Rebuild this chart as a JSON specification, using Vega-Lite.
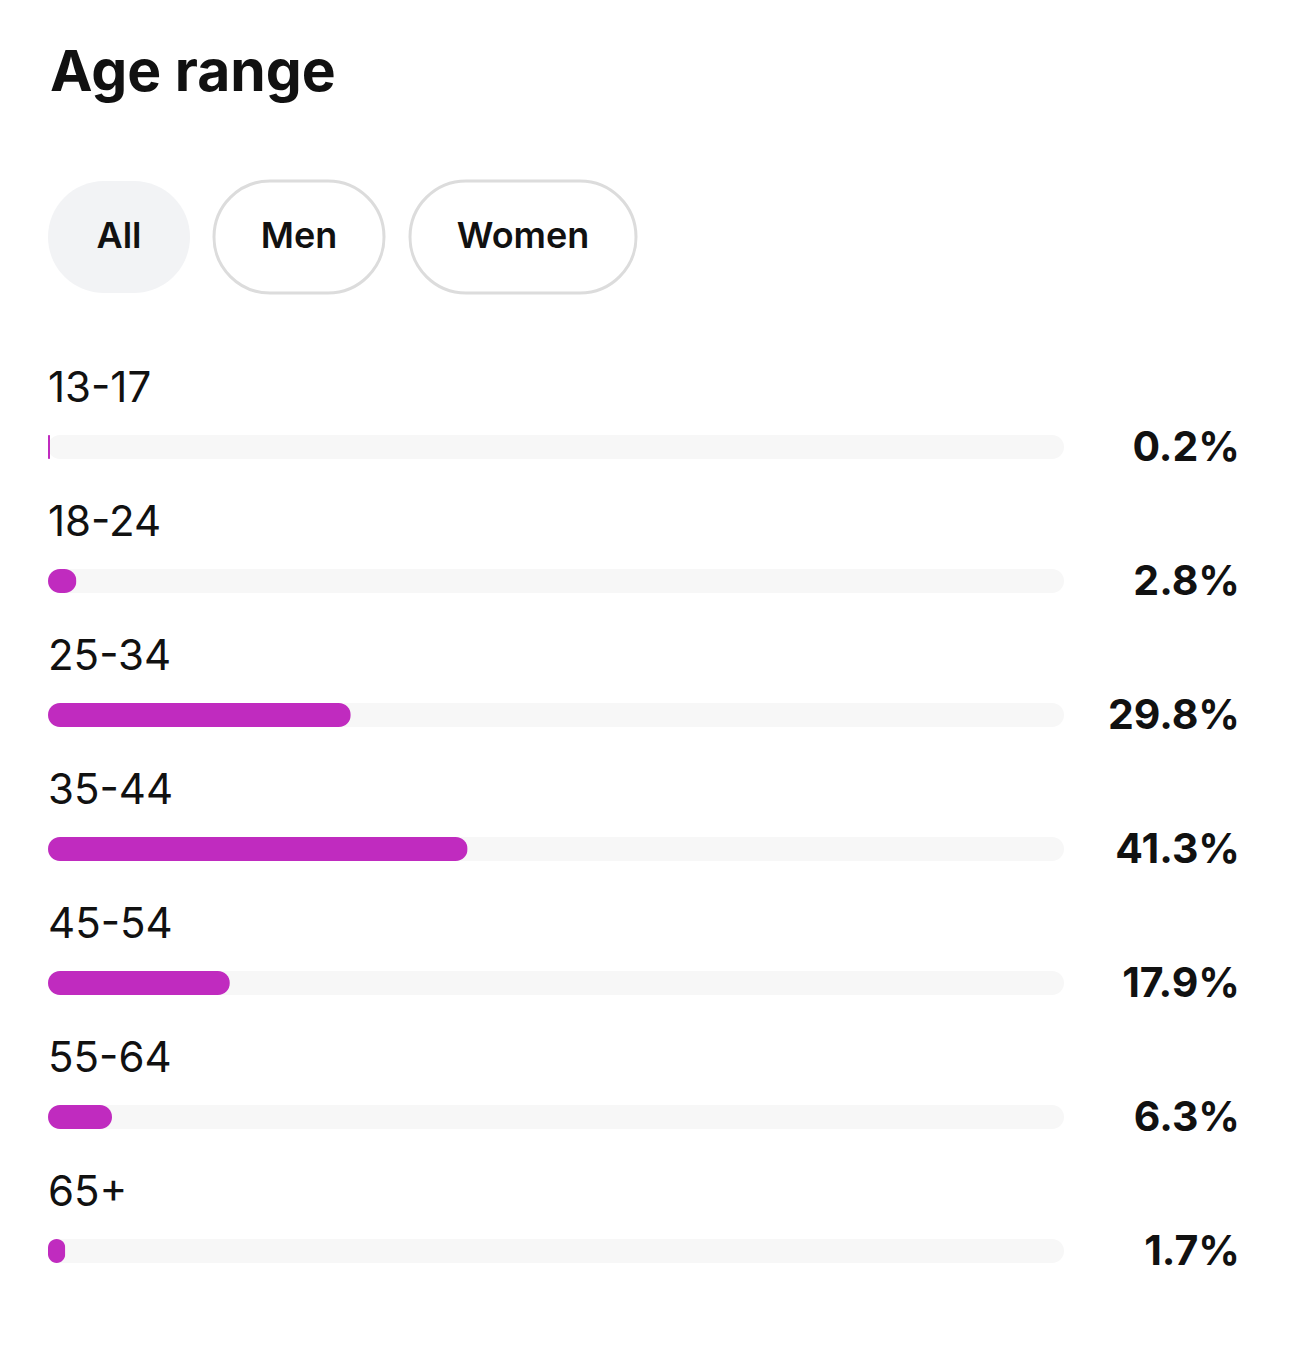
{
  "$schema": "https://vega.github.io/schema/vega-lite/v6.json",
  "padding": {"left": 48, "top": 44, "right": 0, "bottom": 0},
  "background": "#ffffff",
  "config": {
    "view": {"stroke": null},
    "axis": {"disable": true},
    "font": "Inter",
    "concat": {"spacing": 0}
  },
  "title": {
    "text": "Age range",
    "anchor": "start",
    "fontSize": 57,
    "fontWeight": "bold",
    "font": "Inter",
    "color": "#111111",
    "offset": 77,
    "dx": 2
  },
  "datasets": {
    "buttons": [
      {"label": "All", "selected": true},
      {"label": "Men", "selected": false},
      {"label": "Women", "selected": false}
    ],
    "ages": [
      {"age": "13-17", "value": 0.2},
      {"age": "18-24", "value": 2.8},
      {"age": "25-34", "value": 29.8},
      {"age": "35-44", "value": 41.3},
      {"age": "45-54", "value": 17.9},
      {"age": "55-64", "value": 6.3},
      {"age": "65+", "value": 1.7}
    ]
  },
  "vconcat": [
    {
      "hconcat": [
        {
          "width": 142, "height": 112,
          "data": {"name": "buttons"},
          "transform": [{"filter": "datum.label == 'All'"}],
          "layer": [
            {
              "mark": {"type": "rect", "fill": "#f2f3f5", "cornerRadius": 56},
              "encoding": {
                "x": {"datum": 0, "type": "quantitative", "scale": {"domain": [0, 1], "nice": false}},
                "x2": {"datum": 1},
                "y": {"datum": 0, "type": "quantitative", "scale": {"domain": [0, 1], "nice": false}},
                "y2": {"datum": 1}
              }
            },
            {
              "mark": {"type": "text", "fontSize": 36, "fontWeight": 600, "color": "#111111", "align": "center", "baseline": "middle"},
              "encoding": {
                "x": {"datum": 0.5, "type": "quantitative"},
                "y": {"datum": 0.5, "type": "quantitative"},
                "text": {"field": "label"}
              }
            }
          ]
        },
        {
          "width": 170, "height": 112,
          "data": {"name": "buttons"},
          "transform": [{"filter": "datum.label == 'Men'"}],
          "layer": [
            {
              "mark": {"type": "rect", "fill": "#ffffff", "stroke": "#dcdcdc", "strokeWidth": 3, "cornerRadius": 56},
              "encoding": {
                "x": {"datum": 0, "type": "quantitative", "scale": {"domain": [0, 1], "nice": false}},
                "x2": {"datum": 1},
                "y": {"datum": 0, "type": "quantitative", "scale": {"domain": [0, 1], "nice": false}},
                "y2": {"datum": 1}
              }
            },
            {
              "mark": {"type": "text", "fontSize": 36, "fontWeight": 600, "color": "#111111", "align": "center", "baseline": "middle"},
              "encoding": {
                "x": {"datum": 0.5, "type": "quantitative"},
                "y": {"datum": 0.5, "type": "quantitative"},
                "text": {"field": "label"}
              }
            }
          ]
        },
        {
          "width": 226, "height": 112,
          "data": {"name": "buttons"},
          "transform": [{"filter": "datum.label == 'Women'"}],
          "layer": [
            {
              "mark": {"type": "rect", "fill": "#ffffff", "stroke": "#dcdcdc", "strokeWidth": 3, "cornerRadius": 56},
              "encoding": {
                "x": {"datum": 0, "type": "quantitative", "scale": {"domain": [0, 1], "nice": false}},
                "x2": {"datum": 1},
                "y": {"datum": 0, "type": "quantitative", "scale": {"domain": [0, 1], "nice": false}},
                "y2": {"datum": 1}
              }
            },
            {
              "mark": {"type": "text", "fontSize": 36, "fontWeight": 600, "color": "#111111", "align": "center", "baseline": "middle"},
              "encoding": {
                "x": {"datum": 0.5, "type": "quantitative"},
                "y": {"datum": 0.5, "type": "quantitative"},
                "text": {"field": "label"}
              }
            }
          ]
        }
      ],
      "spacing": 22
    },
    {
      "width": 1192,
      "height": 938,
      "data": {"name": "ages"},
      "encoding": {
        "y": {"field": "age", "type": "nominal", "sort": null, "scale": {"paddingInner": 0, "paddingOuter": 0}}
      },
      "layer": [
        {
          "mark": {"type": "bar", "size": 24, "cornerRadius": 12, "color": "#f7f7f7", "yOffset": 20},
          "encoding": {
            "x": {"datum": 100, "type": "quantitative", "scale": {"domain": [0, 117.32], "nice": false, "zero": true}}
          }
        },
        {
          "mark": {"type": "bar", "size": 24, "cornerRadius": 12, "color": "#c02bbf", "yOffset": 20},
          "encoding": {
            "x": {"field": "value", "type": "quantitative"}
          }
        },
        {
          "mark": {"type": "text", "align": "left", "baseline": "alphabetic", "yOffset": -25, "fontSize": 42, "fontWeight": 400, "color": "#111111"},
          "encoding": {
            "x": {"datum": 0, "type": "quantitative"},
            "text": {"field": "age"}
          }
        },
        {
          "mark": {"type": "text", "align": "right", "baseline": "alphabetic", "yOffset": 34, "fontSize": 41, "fontWeight": 700, "color": "#111111", "text": {"expr": "format(datum.value, '.1f') + '%'"}},
          "encoding": {
            "x": {"datum": 117.32, "type": "quantitative"}
          }
        }
      ]
    }
  ],
  "spacing": 65
}
